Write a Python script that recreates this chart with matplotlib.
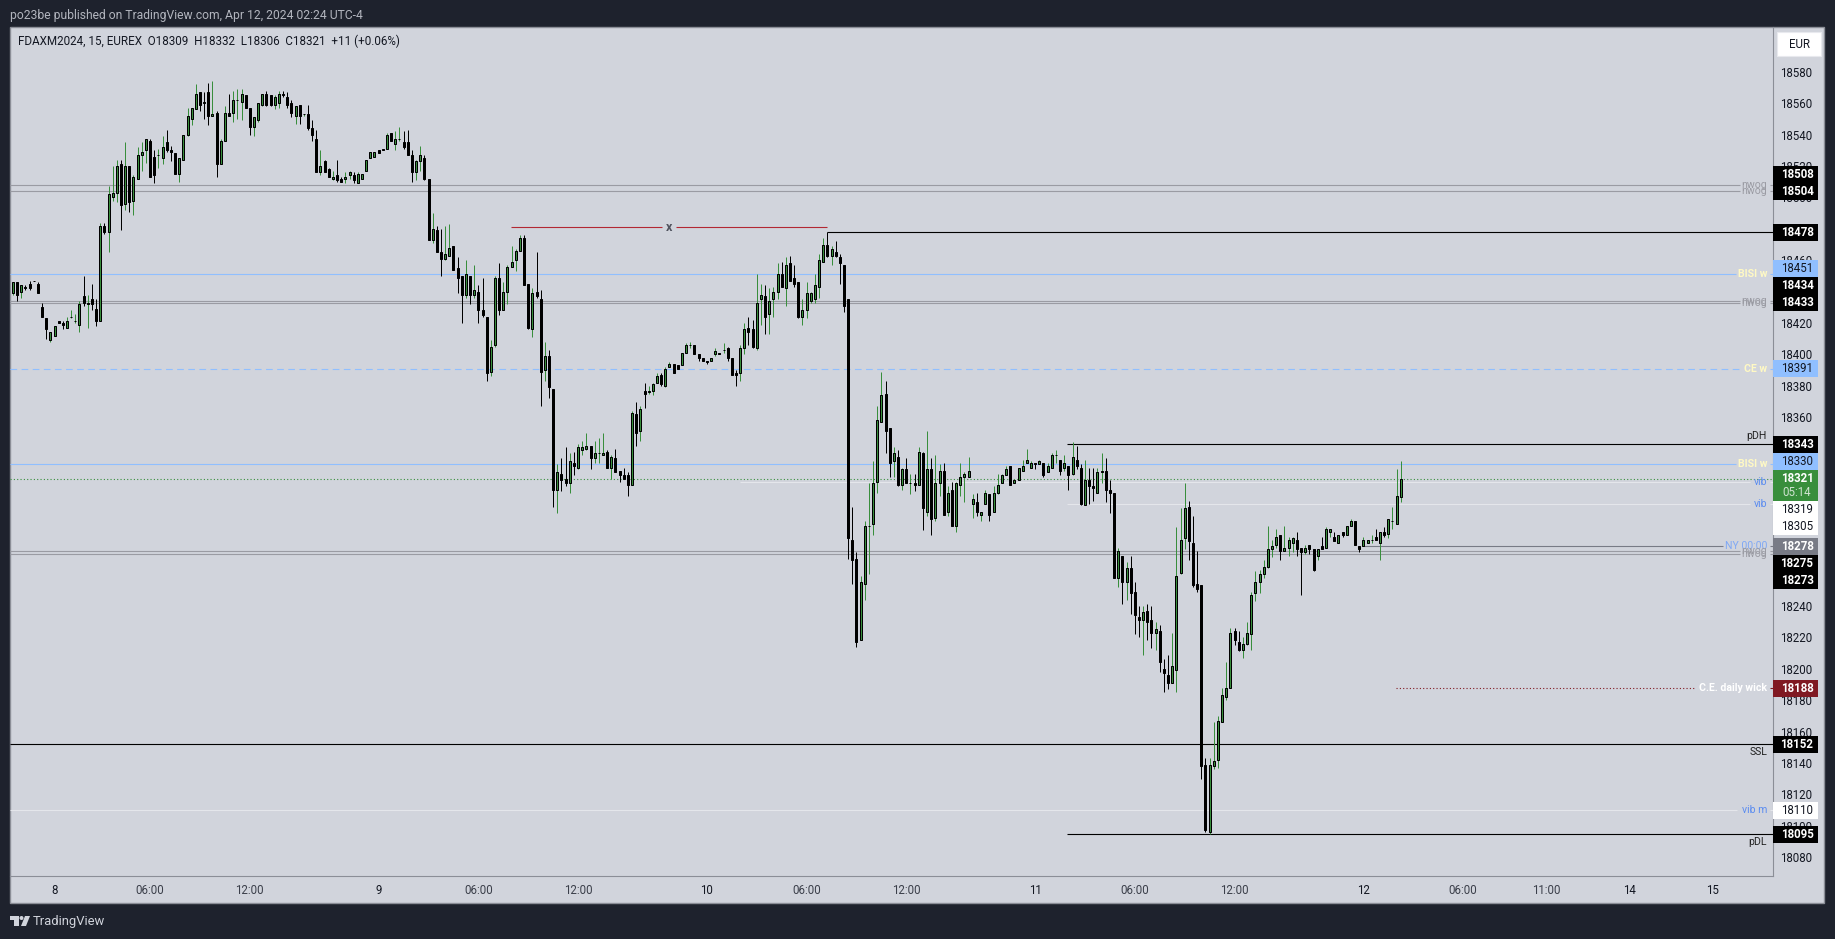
import matplotlib
matplotlib.use('Agg')
import matplotlib.pyplot as plt
from matplotlib.patches import Rectangle, Circle, Polygon

plt.rcParams['font.family'] = ['Roboto', 'DejaVu Sans']

# 15 min candles
opens = [18439,18446,18440,18443,18445,18447,18445,18430,18423,18409,
18412,18421,18420,18417,18424,18421,18419,18437,18432,18435,
18429,18421,18482,18478,18500,18503,18521,18496,18520,18498,
18512,18527,18530,18536,18526,18527,18525,18535,18530,18528,
18515,18524,18540,18550,18556,18567,18561,18567,18552,18554,
18521,18536,18554,18554,18562,18561,18565,18557,18545,18549,
18559,18566,18565,18559,18560,18566,18564,18560,18552,18559,
18553,18553,18544,18537,18516,18523,18518,18512,18514,18512,
18512,18514,18514,18509,18512,18517,18525,18526,18530,18531,
18531,18541,18534,18537,18535,18535,18527,18516,18523,18525,
18512,18473,18479,18465,18461,18463,18469,18455,18450,18438,
18450,18438,18440,18428,18424,18389,18406,18449,18428,18440,
18456,18460,18466,18474,18445,18416,18440,18435,18390,18399,
18378,18314,18324,18321,18318,18331,18328,18339,18340,18342,
18334,18337,18336,18338,18328,18334,18326,18323,18323,18317,
18362,18351,18377,18376,18377,18382,18387,18380,18392,18394,
18393,18393,18401,18406,18406,18400,18398,18396,18396,18400,
18401,18403,18404,18398,18388,18388,18404,18417,18416,18404,
18435,18437,18426,18435,18440,18451,18442,18458,18449,18446,
18424,18428,18434,18435,18443,18459,18470,18463,18465,18462,
18457,18435,18282,18270,18218,18254,18291,18292,18319,18357,
18375,18353,18332,18335,18317,18327,18318,18318,18317,18337,
18300,18327,18296,18318,18326,18300,18314,18291,18317,18322,
18322,18305,18306,18298,18305,18311,18300,18312,18318,18323,
18329,18318,18320,18326,18331,18328,18331,18330,18331,18325,
18328,18336,18333,18328,18329,18324,18333,18328,18304,18320,
18316,18312,18325,18326,18314,18312,18258,18272,18255,18264,
18249,18233,18231,18237,18231,18223,18224,18200,18196,18191,
18199,18261,18283,18303,18280,18254,18253,18139,18096,18138,
18142,18166,18182,18188,18224,18217,18212,18216,18222,18248,
18255,18260,18265,18276,18279,18285,18275,18277,18280,18282,
18277,18274,18279,18276,18272,18278,18277,18287,18284,18280,
18287,18285,18291,18294,18278,18278,18280,18282,18284,18280,
18287,18286,18294,18292,18309]

highs = [18446,18446,18444,18444,18447,18447,18446,18433,18423,18414,
18418,18421,18421,18424,18428,18426,18434,18450,18438,18445,
18435,18484,18484,18507,18520,18524,18524,18535,18520,18514,
18532,18535,18537,18537,18530,18531,18539,18543,18533,18528,
18525,18540,18557,18557,18572,18567,18567,18573,18574,18555,
18537,18558,18566,18568,18569,18569,18565,18557,18551,18560,
18566,18568,18565,18565,18568,18568,18567,18562,18558,18559,
18553,18559,18549,18543,18530,18524,18519,18517,18524,18513,
18516,18517,18516,18516,18515,18524,18529,18529,18530,18531,
18541,18541,18542,18545,18542,18543,18530,18524,18533,18527,
18512,18490,18482,18480,18482,18483,18469,18462,18450,18460,
18450,18457,18444,18449,18424,18409,18450,18458,18446,18457,
18469,18467,18476,18476,18445,18442,18465,18441,18408,18403,
18378,18330,18334,18341,18337,18338,18343,18345,18350,18342,
18345,18347,18350,18339,18336,18340,18326,18328,18325,18364,
18370,18367,18382,18380,18382,18388,18388,18392,18395,18394,
18393,18401,18407,18408,18406,18400,18398,18396,18398,18404,
18401,18407,18405,18398,18390,18406,18420,18424,18422,18451,
18445,18444,18442,18443,18458,18459,18462,18463,18457,18446,
18435,18446,18440,18451,18464,18474,18478,18469,18472,18464,
18457,18435,18303,18274,18259,18294,18318,18332,18367,18389,
18383,18353,18341,18339,18328,18334,18324,18324,18341,18338,
18351,18334,18336,18330,18331,18316,18319,18319,18331,18325,
18335,18311,18312,18300,18314,18311,18316,18324,18324,18329,
18329,18320,18328,18333,18340,18332,18331,18333,18331,18331,
18337,18339,18333,18336,18329,18344,18342,18330,18333,18328,
18328,18328,18337,18334,18320,18312,18277,18272,18268,18272,
18255,18240,18240,18241,18240,18230,18228,18206,18209,18223,
18290,18302,18318,18307,18297,18275,18253,18143,18143,18166,
18170,18188,18204,18226,18226,18224,18220,18230,18249,18262,
18263,18269,18291,18282,18289,18285,18291,18284,18284,18287,
18277,18279,18279,18276,18276,18284,18290,18289,18287,18285,
18287,18291,18295,18294,18278,18284,18282,18285,18289,18287,
18290,18295,18303,18327,18332]

lows = [18438,18434,18436,18441,18441,18447,18439,18424,18410,18408,
18412,18420,18416,18417,18423,18420,18414,18431,18417,18428,
18418,18421,18477,18465,18498,18497,18479,18492,18491,18489,
18512,18517,18522,18513,18509,18519,18521,18529,18523,18515,
18510,18524,18539,18546,18556,18555,18550,18546,18552,18513,
18521,18536,18552,18548,18550,18549,18557,18540,18539,18548,
18558,18558,18558,18556,18557,18564,18557,18551,18547,18547,
18552,18543,18536,18516,18514,18516,18513,18511,18510,18510,
18509,18512,18509,18509,18512,18517,18525,18526,18528,18530,
18531,18536,18530,18536,18531,18527,18510,18511,18517,18511,
18473,18471,18465,18450,18460,18463,18454,18439,18420,18436,
18432,18436,18420,18424,18383,18386,18405,18425,18428,18432,
18456,18453,18466,18444,18416,18411,18436,18367,18383,18372,
18303,18299,18313,18316,18312,18323,18327,18336,18339,18327,
18331,18331,18336,18328,18321,18325,18319,18321,18310,18317,
18342,18345,18366,18375,18374,18382,18380,18379,18392,18388,
18391,18393,18401,18404,18400,18396,18396,18394,18396,18399,
18400,18401,18396,18387,18380,18383,18400,18406,18404,18403,
18419,18413,18413,18424,18435,18443,18431,18447,18443,18423,
18419,18423,18433,18433,18436,18459,18462,18457,18462,18445,
18427,18270,18254,18214,18218,18244,18260,18285,18312,18357,
18337,18322,18322,18316,18314,18318,18311,18313,18317,18288,
18297,18285,18294,18310,18298,18297,18291,18287,18310,18306,
18322,18296,18297,18294,18305,18294,18300,18311,18318,18323,
18317,18318,18320,18326,18331,18328,18327,18330,18322,18325,
18328,18331,18323,18326,18314,18323,18327,18304,18304,18305,
18307,18312,18318,18306,18299,18258,18252,18241,18244,18235,
18222,18220,18209,18218,18213,18212,18198,18185,18187,18191,
18185,18260,18276,18269,18252,18249,18130,18096,18095,18136,
18137,18166,18180,18188,18215,18211,18207,18215,18212,18243,
18248,18258,18264,18271,18277,18269,18275,18272,18274,18272,
18247,18273,18273,18262,18269,18276,18277,18284,18281,18280,
18284,18285,18291,18279,18274,18278,18280,18280,18282,18269,
18284,18283,18289,18292,18306]

closes = [18446,18438,18444,18442,18442,18447,18439,18424,18416,18414,
18418,18420,18419,18421,18424,18421,18432,18433,18433,18432,
18421,18482,18478,18502,18503,18520,18495,18520,18497,18513,
18527,18529,18537,18513,18514,18527,18532,18530,18529,18515,
18525,18540,18552,18557,18566,18559,18560,18552,18553,18521,
18536,18554,18552,18562,18562,18566,18557,18545,18551,18560,
18566,18559,18559,18564,18566,18565,18559,18554,18558,18552,
18553,18544,18540,18516,18520,18516,18513,18513,18511,18510,
18513,18516,18511,18515,18515,18524,18529,18529,18528,18530,
18540,18536,18537,18537,18532,18527,18516,18523,18527,18512,
18473,18480,18465,18461,18464,18468,18454,18449,18438,18451,
18438,18441,18428,18425,18388,18405,18449,18428,18440,18456,
18459,18466,18474,18444,18417,18439,18437,18389,18399,18379,
18314,18325,18320,18318,18332,18329,18341,18341,18342,18334,
18337,18337,18337,18328,18335,18325,18323,18321,18317,18363,
18350,18365,18375,18377,18381,18386,18381,18391,18394,18388,
18391,18401,18406,18406,18400,18398,18396,18395,18398,18402,
18400,18403,18398,18387,18387,18404,18416,18414,18405,18433,
18438,18424,18434,18440,18451,18443,18457,18447,18445,18424,
18428,18439,18439,18444,18460,18470,18463,18467,18463,18458,
18431,18283,18269,18217,18255,18291,18291,18318,18358,18374,
18351,18331,18337,18317,18327,18318,18318,18317,18338,18302,
18327,18295,18318,18326,18298,18312,18291,18318,18322,18324,
18326,18308,18300,18300,18312,18298,18312,18317,18323,18327,
18317,18320,18328,18329,18333,18331,18330,18332,18323,18329,
18336,18336,18326,18331,18323,18335,18329,18305,18320,18316,
18315,18325,18326,18314,18312,18258,18275,18255,18264,18248,
18234,18231,18236,18230,18223,18225,18204,18197,18191,18202,
18259,18282,18302,18281,18253,18251,18138,18097,18139,18141,
18167,18183,18188,18223,18218,18212,18216,18223,18247,18255,
18260,18265,18276,18278,18284,18275,18277,18282,18283,18276,
18274,18277,18276,18263,18276,18276,18289,18289,18281,18285,
18285,18291,18294,18279,18276,18282,18282,18282,18282,18287,
18285,18295,18294,18310,18321]

# horizontal levels drawn on the chart
level_prices = [18508, 18504, 18478, 18451, 18434, 18433, 18391, 18343, 18330, 18321,
                18319, 18305, 18278, 18275, 18273, 18188, 18152, 18110, 18095]
level_tags = ['nwog', 'nwog', '', 'BISI w', 'nwog', 'nwog', 'CE w', 'pDH', 'BISI w', '',
              'vib', 'vib', 'NY 00:00', 'nwog', 'nwog', 'C.E. daily wick', 'SSL', 'vib m', 'pDL']
swept_high = 18481

# the scale marks that the price labels hide completely are left out
price_ticks = [18080, 18100, 18120, 18140, 18160, 18180, 18200, 18220, 18240, 18360,
               18380, 18400, 18420, 18460, 18500, 18520, 18540, 18560, 18580]
time_ticks = [10, 33, 57, 88, 112, 136, 167, 191, 215, 246, 270, 294, 325, 349, 369, 389, 409]
time_labels = ['8', '06:00', '12:00', '9', '06:00', '12:00', '10', '06:00', '12:00',
               '11', '06:00', '12:00', '12', '06:00', '11:00', '14', '15']
day_labels = ['8', '9', '10', '11', '12', '14', '15']

header = 'po23be published on TradingView.com, Apr 12, 2024 02:24 UTC-4'
legend = 'FDAXM2024, 15, EUREX  O18309  H18332  L18306  C18321  +11 (+0.06%)'

# ---- layout, in pixels of the 1835x939 picture
W, H = 1835, 939
DARK = '#1e222d'
PANEL = '#d1d4dc'
EDGE = '#8b8e97'
UP = '#388e3c'
BLUE = '#90bfff'
GREY = '#9a9ba3'
LIGHT = '#e4e6eb'
CREAM = '#fff9c4'
TAGBLUE = '#5b8cf0'
BAR0_PX, BAR_STEP = 13.0, 4.155
P0_PX, PX_PER_POINT = 71.7, 1.571
LEFT, TOP, AXIS_X, AXIS_Y, RIGHT, BOTTOM = 10, 27, 1773, 876, 1824, 903


def px_to_bar(px):
    return (px - BAR0_PX) / BAR_STEP


def px_to_price(py):
    return 18580 - (py - P0_PX) / PX_PER_POINT


def make_axes(l, t, r, b):
    return fig.add_axes([l / W, 1 - b / H, (r - l) / W, (b - t) / H])


fig = plt.figure(figsize=(W / 100, H / 100), dpi=100, facecolor=DARK)

back = make_axes(0, 0, W, H)
back.set_xlim(0, W)
back.set_ylim(H, 0)
back.axis('off')
back.add_patch(Rectangle((LEFT, TOP), RIGHT - LEFT, BOTTOM - TOP, fc=PANEL, ec=EDGE, lw=1.0))
back.text(10, 15, header, color='#b2b5be', fontsize=8.75, va='center', ha='left')
# TradingView mark
back.add_patch(Rectangle((10, 916), 9, 4, fc=PANEL, ec='none'))
back.add_patch(Rectangle((14, 916), 5, 10, fc=PANEL, ec='none'))
back.add_patch(Circle((21.5, 918), 2, fc=PANEL, ec='none'))
back.add_patch(Polygon([[25, 916], [30, 916], [26, 926], [21, 926]], fc=PANEL, ec='none'))
back.text(33, 921, 'TradingView', color=PANEL, fontsize=9.4, va='center', ha='left')

# ---- candles
ax = make_axes(LEFT, TOP, AXIS_X, AXIS_Y)
ax.set_zorder(2)
ax.patch.set_alpha(0)
ax.set_xlim(px_to_bar(LEFT), px_to_bar(AXIS_X))
ax.set_ylim(px_to_price(AXIS_Y), px_to_price(TOP))
for s in ax.spines.values():
    s.set_visible(False)
ax.spines['bottom'].set_visible(True)
ax.spines['bottom'].set_color(EDGE)
ax.spines['right'].set_visible(True)
ax.spines['right'].set_color(EDGE)
ax.set_yticks([])
ax.set_xticks(time_ticks)
ax.set_xticklabels(time_labels, fontsize=8.3)
ax.tick_params(axis='x', length=0, pad=6)
for lab in ax.get_xticklabels():
    lab.set_color('#131722' if lab.get_text() in day_labels else '#3b3f4a')

bars = list(range(len(opens)))
up = [c >= o for o, c in zip(opens, closes)]
wick_colors = [UP if u else 'black' for u in up]
body_colors = [UP if u else 'black' for u in up]
ax.vlines(bars, lows, highs, colors=wick_colors, lw=0.72, zorder=5)
ax.bar(bars, [c - o for o, c in zip(opens, closes)], bottom=opens, width=2 / BAR_STEP,
       color=body_colors, edgecolor='black', linewidth=0.72, zorder=6)

# ---- levels
line_colors = [GREY, GREY, 'black', BLUE, GREY, GREY, BLUE, 'black', BLUE, UP,
               LIGHT, LIGHT, '#787b86', GREY, GREY, '#801922', 'black', LIGHT, 'black']
line_styles = ['-', '-', '-', '-', '-', '-', (0, (6, 4)), '-', '-', (0, (1, 2)),
               '-', '-', '-', '-', '-', (0, (1, 2)), '-', '-', '-']
line_starts = [LEFT, LEFT, 827, LEFT, LEFT, LEFT, LEFT, 1067, LEFT, LEFT,
               740, 1067, 1363, LEFT, LEFT, 1396, LEFT, LEFT, 1067]
line_ends = [1740, 1740, AXIS_X, 1736, 1740, 1740, 1741, AXIS_X, 1736, AXIS_X,
             1750, 1750, 1723, 1740, 1740, 1694, AXIS_X, 1737, AXIS_X]
tag_colors = [GREY, GREY, 'black', CREAM, GREY, GREY, CREAM, '#222222', CREAM, 'black',
              TAGBLUE, TAGBLUE, '#7fa8f5', GREY, GREY, 'white', '#222222', TAGBLUE, '#222222']
tag_weights = ['normal', 'normal', 'normal', 'bold', 'normal', 'normal', 'bold', 'normal', 'bold',
               'normal', 'normal', 'normal', 'normal', 'normal', 'normal', 'bold', 'normal', 'normal', 'normal']
tag_shift = [0, 0, 0, 0, 0, 0, 0, -8, 0, 0, 0, 0, 0, 0, 0, 0, 8, 0, 8]

for i, p in enumerate(level_prices):
    ax.hlines(p, px_to_bar(line_starts[i]), px_to_bar(line_ends[i]), colors=line_colors[i],
              linestyles=[line_styles[i]], lw=0.8, zorder=3)
    if level_tags[i]:
        ax.text(px_to_bar(1767), p - tag_shift[i] / PX_PER_POINT, level_tags[i], color=tag_colors[i],
                fontsize=7.6, fontweight=tag_weights[i], ha='right', va='center', zorder=4)
        if line_ends[i] != AXIS_X:
            ax.hlines(p, px_to_bar(1770), px_to_bar(AXIS_X), colors=line_colors[i], lw=0.8, zorder=3)

# the swept high, line broken around its label
ax.hlines(swept_high, px_to_bar(510.7), px_to_bar(662), colors='#b22833', lw=0.8, zorder=3)
ax.hlines(swept_high, px_to_bar(676), px_to_bar(827), colors='#b22833', lw=0.8, zorder=3)
ax.text(px_to_bar(669), swept_high, 'x', color='#50535e', fontsize=9, fontweight='bold',
        ha='center', va='center', zorder=4)

ax.text(px_to_bar(18), px_to_price(41.7), legend, color='#131722', fontsize=8.4, ha='left', va='center')

# ---- price scale
axp = make_axes(AXIS_X, TOP, RIGHT, AXIS_Y)
axp.set_zorder(2)
axp.patch.set_alpha(0)
axp.set_ylim(ax.get_ylim())
axp.set_xticks([])
axp.set_yticks(price_ticks)
axp.set_yticklabels([str(p) for p in price_ticks], fontsize=8.3, color='#131722')
axp.tick_params(axis='y', length=0, pad=-28.4)
for s in axp.spines.values():
    s.set_visible(False)

# ---- price labels on top of the scale
top = make_axes(0, 0, W, H)
top.set_zorder(5)
top.patch.set_alpha(0)
top.set_xlim(0, W)
top.set_ylim(H, 0)
top.axis('off')

box_centers = [174.7, 191.5, 232.3, 268.9, 285.7, 302.7, 368.3, 444.7, 461.8, None,
               509.2, 526.5, 546.7, 563.7, 580.7, 688.7, 744.7, 810.3, 834.7]
box_faces = ['black', 'black', 'black', BLUE, 'black', 'black', BLUE, 'black', BLUE, UP,
             'white', 'white', '#787b86', 'black', 'black', '#801922', 'black', 'white', 'black']
box_texts = ['white', 'white', 'white', '#131722', 'white', 'white', '#131722', 'white', '#131722', 'white',
             '#131722', '#131722', 'white', 'white', 'white', 'white', 'white', '#131722', 'white']

for i, p in enumerate(level_prices):
    if box_centers[i] is None:
        continue
    c = box_centers[i]
    top.add_patch(Rectangle((AXIS_X, c - 8.5), 44.7, 17, fc=box_faces[i], ec='none'))
    bold = 'bold' if box_texts[i] == 'white' else 'normal'
    top.text(1797, c, str(p), color=box_texts[i], fontsize=8.3, fontweight=bold, ha='center', va='center')

# live price carries the countdown under it
top.add_patch(Rectangle((AXIS_X, 470), 44.7, 30.7, fc=UP, ec='none'))
top.text(1797, 479, '18321', color='white', fontsize=8.3, fontweight='bold', ha='center', va='center')
top.text(1797, 492.7, '05:14', color='#cfe3d0', fontsize=8.3, ha='center', va='center')

top.add_patch(Rectangle((1777, 32), 44, 24, fc='white', ec='#e8e9ee', lw=0.8))
top.text(1799, 44.5, 'EUR', color='#131722', fontsize=8.3, ha='center', va='center')

fig.savefig('out.png', dpi=100, facecolor=DARK)
